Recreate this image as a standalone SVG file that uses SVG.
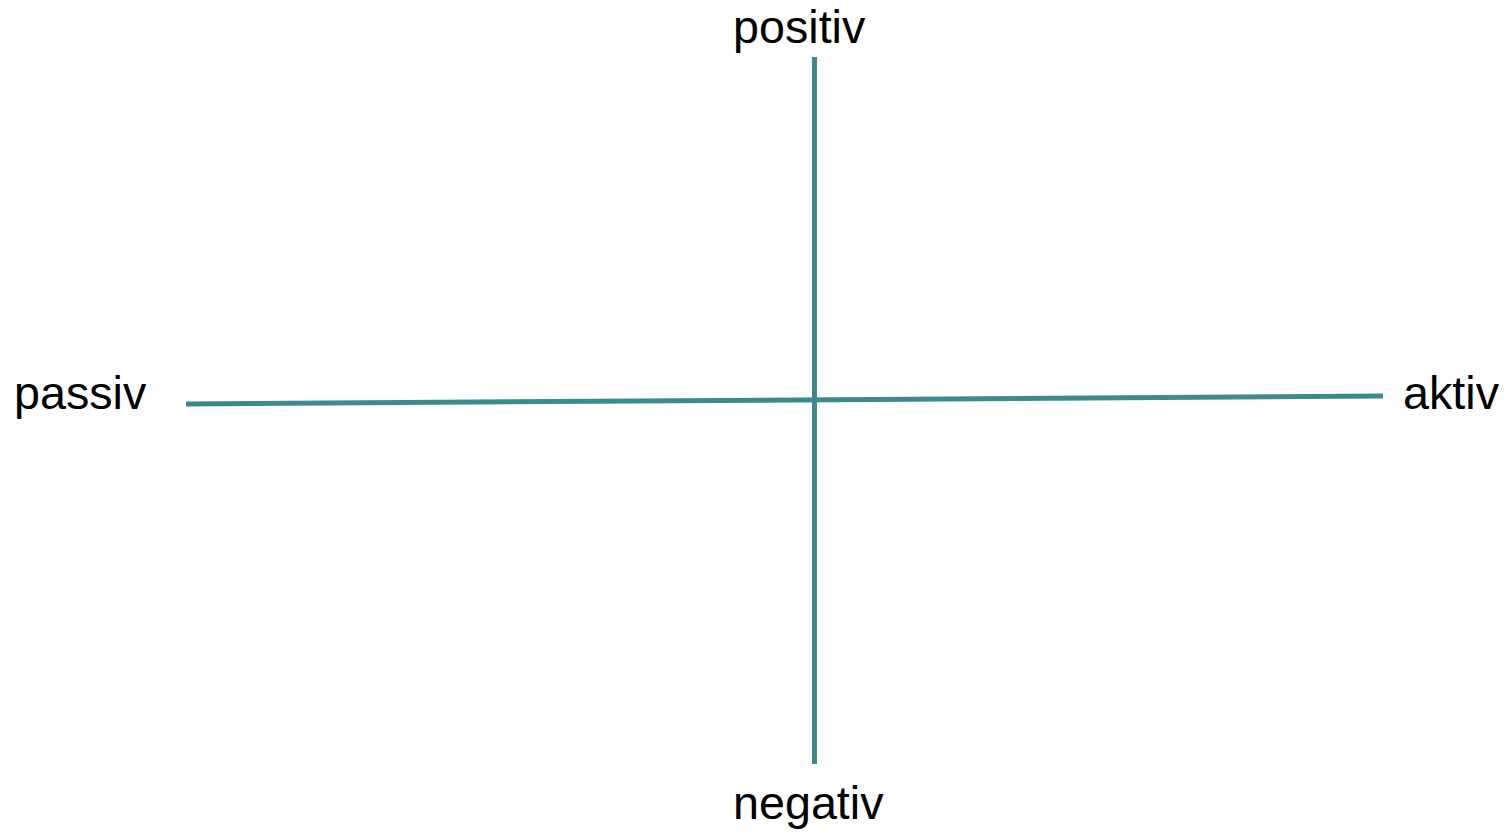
<svg xmlns="http://www.w3.org/2000/svg" width="1505" height="832" viewBox="0 0 1505 832">
<style>
.ax{stroke:#3b8a8e;stroke-width:5;fill:none}
.lb{font-family:"Liberation Sans",Arial,sans-serif;font-size:46.7px;fill:#000}
</style>
<rect width="1505" height="832" fill="#fff"/>
<g id="connectors">
<line class="ax" x1="814.5" y1="57" x2="814.5" y2="764"/>
<line class="ax" x1="186" y1="404" x2="1383" y2="396"/>
</g>
<g id="positiv"><text class="lb" x="733" y="43">positiv</text></g>
<g id="negativ"><text class="lb" x="733" y="819">negativ</text></g>
<g id="passiv"><text class="lb" x="14" y="409">passiv</text></g>
<g id="aktiv"><text class="lb" x="1403" y="409">aktiv</text></g>
</svg>
